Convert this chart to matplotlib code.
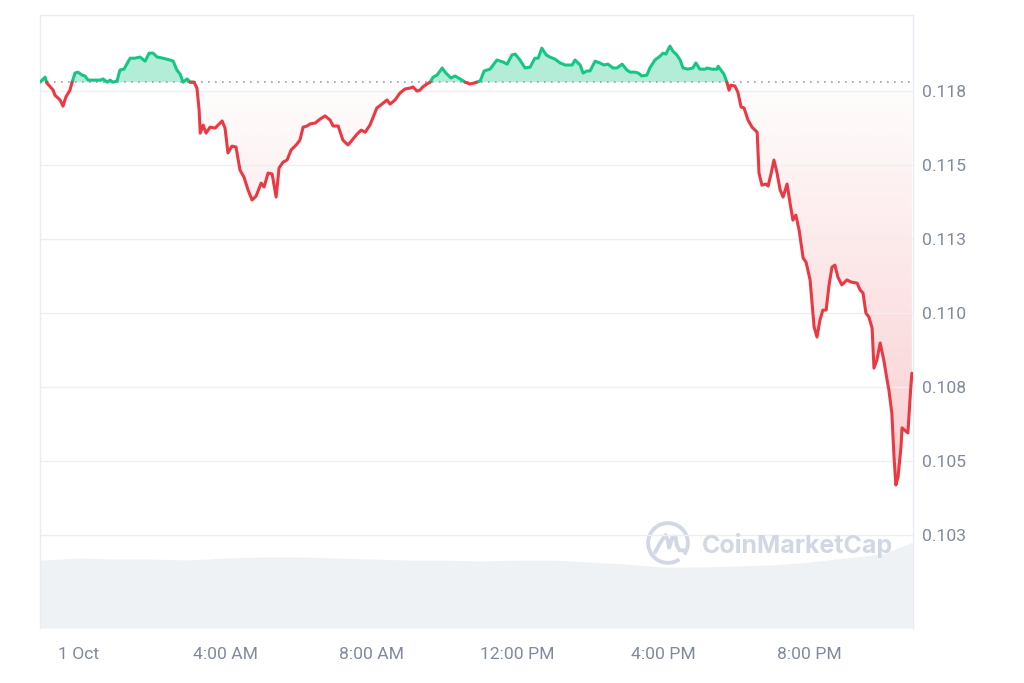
import numpy as np
import matplotlib
matplotlib.use("Agg")
import matplotlib.pyplot as plt
from matplotlib.patches import PathPatch, Arc
from matplotlib.path import Path

plt.rcParams['font.family'] = ['Roboto', 'DejaVu Sans']

# price, hours from 1 Oct 00:00
hours = [-1.07, -0.93, -0.88, -0.79, -0.71, -0.66, -0.52, -0.44, -0.36, -0.25,
         -0.19, -0.11, -0.03, 0.08, 0.16, 0.25, 0.44, 0.58, 0.66, 0.77,
         0.85, 0.93, 1.04, 1.12, 1.23, 1.40, 1.53, 1.67, 1.81, 1.92,
         2.03, 2.14, 2.30, 2.49, 2.58, 2.68, 2.77, 2.85, 2.96, 3.04,
         3.15, 3.23, 3.29, 3.32, 3.40, 3.48, 3.59, 3.73, 3.81, 3.92,
         4.00, 4.08, 4.19, 4.30, 4.41, 4.52, 4.63, 4.74, 4.85, 4.99,
         5.07, 5.18, 5.29, 5.40, 5.48, 5.59, 5.70, 5.81, 5.95, 6.05,
         6.14, 6.25, 6.33, 6.47, 6.60, 6.74, 6.88, 6.96, 7.10, 7.23,
         7.37, 7.48, 7.62, 7.73, 7.84, 7.97, 8.05, 8.16, 8.30, 8.44,
         8.52, 8.66, 8.79, 8.93, 9.07, 9.15, 9.26, 9.34, 9.42, 9.53,
         9.62, 9.70, 9.81, 9.95, 10.05, 10.19, 10.30, 10.44, 10.58, 10.71,
         10.82, 10.99, 11.10, 11.26, 11.45, 11.62, 11.73, 11.86, 11.95, 12.08,
         12.22, 12.36, 12.49, 12.58, 12.68, 12.80, 12.90, 13.04, 13.18, 13.32,
         13.51, 13.59, 13.73, 13.81, 13.92, 14.00, 14.14, 14.27, 14.38, 14.49,
         14.63, 14.74, 14.88, 15.01, 15.10, 15.23, 15.32, 15.42, 15.56, 15.64,
         15.78, 15.92, 16.00, 16.08, 16.19, 16.27, 16.38, 16.47, 16.55, 16.68,
         16.82, 16.90, 17.01, 17.15, 17.21, 17.34, 17.48, 17.51, 17.67, 17.75,
         17.81, 17.86, 17.97, 18.05, 18.14, 18.22, 18.33, 18.44, 18.58, 18.63,
         18.71, 18.82, 18.88, 18.96, 19.04, 19.12, 19.21, 19.29, 19.40, 19.48,
         19.56, 19.64, 19.73, 19.84, 19.92, 20.03, 20.14, 20.22, 20.30, 20.38,
         20.47, 20.55, 20.63, 20.71, 20.79, 20.90, 21.04, 21.15, 21.32, 21.40,
         21.48, 21.56, 21.64, 21.73, 21.78, 21.86, 21.95, 22.05, 22.14, 22.19,
         22.27, 22.33, 22.38, 22.44, 22.52, 22.55, 22.68, 22.71, 22.79, 22.82]
prices = [0.11780, 0.11797, 0.11777, 0.11764, 0.11753, 0.11736, 0.11720, 0.11699, 0.11730, 0.11753,
          0.11780, 0.11811, 0.11814, 0.11804, 0.11801, 0.11787, 0.11787, 0.11787, 0.11791, 0.11780,
          0.11787, 0.11780, 0.11784, 0.11821, 0.11824, 0.11861, 0.11861, 0.11865, 0.11851, 0.11878,
          0.11878, 0.11865, 0.11861, 0.11855, 0.11851, 0.11821, 0.11807, 0.11780, 0.11791, 0.11780,
          0.11780, 0.11760, 0.11686, 0.11608, 0.11635, 0.11608, 0.11628, 0.11625, 0.11635, 0.11649,
          0.11625, 0.11541, 0.11564, 0.11561, 0.11483, 0.11459, 0.11416, 0.11382, 0.11395, 0.11439,
          0.11426, 0.11473, 0.11470, 0.11392, 0.11490, 0.11510, 0.11517, 0.11551, 0.11568, 0.11584,
          0.11628, 0.11632, 0.11639, 0.11642, 0.11655, 0.11666, 0.11652, 0.11632, 0.11632, 0.11584,
          0.11568, 0.11584, 0.11605, 0.11618, 0.11611, 0.11635, 0.11659, 0.11693, 0.11706, 0.11720,
          0.11706, 0.11720, 0.11743, 0.11757, 0.11760, 0.11764, 0.11750, 0.11753, 0.11764, 0.11774,
          0.11780, 0.11797, 0.11804, 0.11828, 0.11811, 0.11794, 0.11801, 0.11791, 0.11780, 0.11774,
          0.11777, 0.11784, 0.11818, 0.11824, 0.11855, 0.11848, 0.11841, 0.11872, 0.11875, 0.11855,
          0.11828, 0.11831, 0.11861, 0.11861, 0.11895, 0.11872, 0.11865, 0.11858, 0.11845, 0.11838,
          0.11838, 0.11855, 0.11838, 0.11811, 0.11818, 0.11818, 0.11851, 0.11845, 0.11838, 0.11841,
          0.11828, 0.11828, 0.11841, 0.11821, 0.11814, 0.11814, 0.11811, 0.11801, 0.11804, 0.11828,
          0.11855, 0.11868, 0.11878, 0.11875, 0.11902, 0.11885, 0.11872, 0.11855, 0.11828, 0.11824,
          0.11828, 0.11845, 0.11824, 0.11824, 0.11828, 0.11824, 0.11824, 0.11834, 0.11807, 0.11780,
          0.11753, 0.11770, 0.11767, 0.11747, 0.11696, 0.11693, 0.11652, 0.11628, 0.11611, 0.11473,
          0.11432, 0.11436, 0.11429, 0.11470, 0.11517, 0.11476, 0.11416, 0.11392, 0.11436, 0.11372,
          0.11314, 0.11331, 0.11280, 0.11186, 0.11172, 0.11112, 0.10953, 0.10919, 0.10976, 0.11010,
          0.11010, 0.11095, 0.11155, 0.11162, 0.11122, 0.11095, 0.11112, 0.11105, 0.11101, 0.11078,
          0.11068, 0.11000, 0.10987, 0.10949, 0.10814, 0.10841, 0.10899, 0.10841, 0.10774, 0.10740,
          0.10662, 0.10514, 0.10419, 0.10446, 0.10547, 0.10612, 0.10598, 0.10595, 0.10750, 0.10797]
open_price = 0.11780

# 24h volume (million USD), rough hourly reading
vol_hours = [-1.07, -1, 0, 1, 2, 3, 4, 5, 6, 7, 8, 9, 10, 11, 12,
             13, 14, 15, 16, 17, 18, 19, 20, 21, 22, 22.85]
volume = [27.2, 27.2, 28.0, 27.6, 27.6, 27.2, 28.0, 28.4, 28.4, 28.0, 27.6, 27.2, 27.2, 26.8, 27.2,
          27.2, 26.4, 25.6, 24.4, 24.4, 24.8, 25.2, 26.4, 28.0, 29.6, 34.4]

price_ticks = [0.1025, 0.105, 0.1075, 0.110, 0.1125, 0.115, 0.1175]
price_labels = ["0.103", "0.105", "0.108", "0.110", "0.113", "0.115", "0.118"]
time_ticks = [0, 4, 8, 12, 16, 20]
time_labels = ["1 Oct", "4:00 AM", "8:00 AM", "12:00 PM", "4:00 PM", "8:00 PM"]

green = '#16c784'
red = '#ea3943'
grey_text = '#808a9d'
line_col = '#eceff3'

# add crossing points with the open price so colours split cleanly
t = np.array(hours)
p = np.array(prices)
tt, pp = [t[0]], [p[0]]
for i in range(1, len(t)):
    a, b = p[i - 1] - open_price, p[i] - open_price
    if a * b < 0:
        tt.append(t[i - 1] + (t[i] - t[i - 1]) * a / (a - b))
        pp.append(open_price)
    tt.append(t[i])
    pp.append(p[i])
tt = np.array(tt)
pp = np.array(pp)

fig = plt.figure(figsize=(10.24, 6.83), dpi=100)
ax = fig.add_axes([40 / 1024, 55 / 683, 873 / 1024, 613 / 683])
ax2 = ax.twinx()

# volume in the back
ax2.fill_between(vol_hours, volume, 0, color='#eff2f5', lw=0)
ax2.set_ylim(0, max(volume) * 613 / 86)
ax2.set_yticks([])
for s in ax2.spines.values():
    s.set_visible(False)
ax.set_zorder(ax2.get_zorder() + 1)
ax.patch.set_visible(False)

# green area + line
ax.fill_between(tt, pp, open_price, where=pp >= open_price, color=green, alpha=0.32, lw=0, zorder=2)
ax.plot(tt, np.where(pp >= open_price, pp, np.nan), color=green, lw=2.2, zorder=4, solid_capstyle='round')

# red area with gradient
red_poly = ax.fill_between(tt, pp, open_price, where=pp <= open_price, facecolor='none', lw=0)
clip = PathPatch(Path.make_compound_path(*red_poly.get_paths()), transform=ax.transData,
                 facecolor='none', edgecolor='none')
ax.add_patch(clip)
grad = np.zeros((256, 1, 4))
grad[..., :3] = matplotlib.colors.to_rgb(red)
grad[..., 3] = np.linspace(0.01, 0.25, 256).reshape(-1, 1)
im = ax.imshow(grad, extent=[tt[0], tt[-1], pp.min(), open_price], origin='upper',
               aspect='auto', zorder=1)
im.set_clip_path(clip)
ax.plot(tt, np.where(pp <= open_price, pp, np.nan), color=red, lw=2.2, zorder=4, solid_capstyle='round')

# open price dotted line
ax.axhline(open_price, color='#9aa1ae', lw=1.2, ls=(0, (1, 3.2)), zorder=3)

ax.set_xlim(-1.07, 22.85)
ax.set_ylim(0.09936, 0.12007)
ax.yaxis.tick_right()
ax.set_yticks(price_ticks)
ax.set_yticklabels(price_labels)
ax.set_xticks(time_ticks)
ax.set_xticklabels(time_labels)
ax.tick_params(axis='y', length=0, pad=6.5, labelsize=12.6, labelcolor=grey_text)
ax.tick_params(axis='x', length=0, pad=13.5, labelsize=12.6, labelcolor=grey_text)
ax.grid(axis='y', color=line_col, lw=1, zorder=0)
for side in ['left', 'top', 'right']:
    ax.spines[side].set_color('#e9ecf0')
    ax.spines[side].set_linewidth(1)
ax.spines['bottom'].set_visible(False)

# watermark
fig.text(702 / 1024, 1 - 545 / 683, "CoinMarketCap", fontsize=18, fontweight='bold',
         color='#d2d8e3', va='center', ha='left', zorder=10, family=['Inter', 'DejaVu Sans'])
logo = fig.add_axes([645 / 1024, (683 - 566) / 683, 46 / 1024, 46 / 683])
logo.set_xlim(-1.1, 1.1)
logo.set_ylim(-1.1, 1.1)
logo.axis('off')
logo.add_patch(Arc((0, 0), 1.9, 1.9, theta1=-35, theta2=305, color='#d2d8e3', lw=2.8))
wx = [-0.62, -0.35, -0.12, 0.0, 0.05, 0.22, 0.36, 0.42, 0.55, 0.78]
wy = [-0.45, 0.05, 0.38, 0.1, -0.22, 0.3, 0.3, -0.1, -0.35, -0.35]
logo.plot(wx, wy, color='#d2d8e3', lw=2.8, solid_capstyle='round', solid_joinstyle='round')

fig.savefig("out.png", dpi=100)
